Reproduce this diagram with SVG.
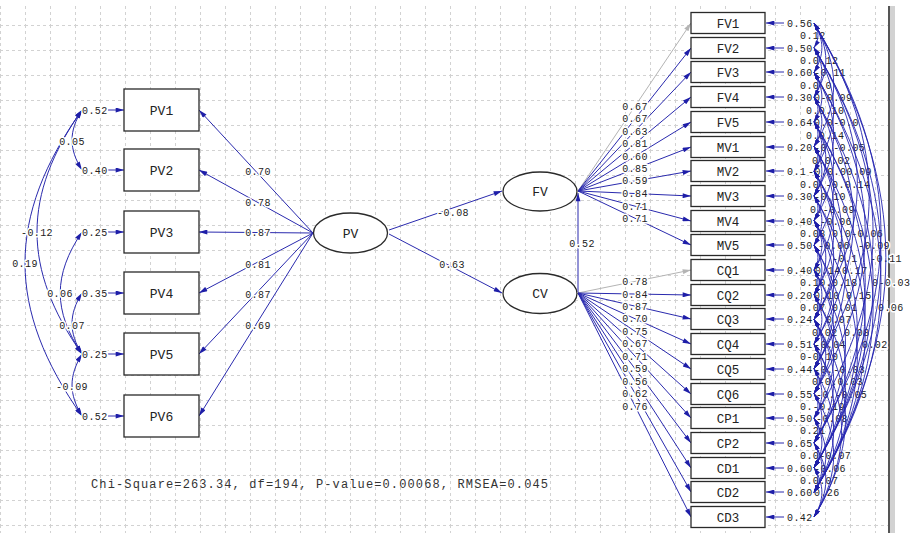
<svg xmlns="http://www.w3.org/2000/svg" width="912" height="533" viewBox="0 0 912 533">
<defs>
<pattern id="grid" x="0" y="0" width="25" height="25" patternUnits="userSpaceOnUse">
<path d="M0 0.5H25M0.5 0V25" stroke="#d2d2d2" stroke-width="1" stroke-dasharray="3 3" fill="none"/>
</pattern>
<marker id="a" viewBox="0 0 10 6" refX="10" refY="3" markerWidth="10" markerHeight="5" markerUnits="userSpaceOnUse" orient="auto-start-reverse"><path d="M0 0L10 3L0 6z" fill="#1e1ea8"/></marker>
<marker id="ag" viewBox="0 0 10 6" refX="10" refY="3" markerWidth="10" markerHeight="5" markerUnits="userSpaceOnUse" orient="auto-start-reverse"><path d="M0 0L10 3L0 6z" fill="#b4b4b4"/></marker>
<marker id="as" viewBox="0 0 10 6" refX="10" refY="3" markerWidth="8" markerHeight="4.5" markerUnits="userSpaceOnUse" orient="auto-start-reverse"><path d="M0 0L10 3L0 6z" fill="#1e1ea8"/></marker>
</defs>
<style>
.ln{stroke:#2a2aae;stroke-width:1;fill:none;marker-end:url(#a)}
.lg{stroke:#b4b4b4;stroke-width:1;fill:none;marker-end:url(#ag)}
.cv{stroke:#2a2aae;stroke-width:1;fill:none;marker-start:url(#a);marker-end:url(#a)}
.arc{stroke:#2424b0;stroke-width:.9;fill:none;marker-start:url(#as);marker-end:url(#as)}
.box{fill:#fff;stroke:#2a2a2a;stroke-width:1.3}
.el{fill:#fff;stroke:#2a2a2a;stroke-width:1.3}
.bx{font-family:"Liberation Mono",monospace;font-size:13px;text-anchor:middle;fill:#222}
.bs{font-family:"Liberation Mono",monospace;font-size:12.5px;text-anchor:middle;fill:#222}
.lb{font-family:"Liberation Mono",monospace;font-size:10px;letter-spacing:.4px;fill:#222;stroke:#fff;stroke-width:3px;paint-order:stroke;stroke-linejoin:round}
.m{text-anchor:middle}
.ft{font-family:"Liberation Mono",monospace;font-size:12px;fill:#333}
</style>
<rect width="912" height="533" fill="#fff"/>
<g id="grid"><rect x="0" y="4" width="888" height="529" fill="url(#grid)"/></g>
<g id="frame"><rect x="888" y="6" width="2" height="527" fill="#555"/><rect x="890" y="6" width="5" height="527" fill="#d2d2d2"/></g>

<g id="connectors">
<path class="ln" d="M313 233L199 110"/>
<path class="ln" d="M313 233L199 170"/>
<path class="ln" d="M313 233L199 232"/>
<path class="ln" d="M313 233L199 293"/>
<path class="ln" d="M313 233L199 354"/>
<path class="ln" d="M313 233L199 416"/>
<path class="ln" d="M108 110H124"/>
<path class="ln" d="M108 170H124"/>
<path class="ln" d="M108 232H124"/>
<path class="ln" d="M108 293H124"/>
<path class="ln" d="M108 354H124"/>
<path class="ln" d="M108 416H124"/>
<path class="cv" d="M82 110C68.7 131 68.7 149 82 170"/>
<path class="cv" d="M82 110C22 195 22 269 82 354"/>
<path class="cv" d="M82 110C6 217 6 309 82 416"/>
<path class="cv" d="M82 232C53 275 53 311 82 354"/>
<path class="cv" d="M82 293C68.7 314 68.7 333 82 354"/>
<path class="cv" d="M82 354C68.7 376 68.7 394 82 416"/>
<path class="ln" d="M389 230L502 191"/>
<path class="ln" d="M389 234L502 293"/>
<path class="ln" d="M578 292L578 193"/>
<path class="lg" d="M578 191L691 23"/>
<path class="ln" d="M578 191L691 48"/>
<path class="ln" d="M578 191L691 72"/>
<path class="ln" d="M578 191L691 97"/>
<path class="ln" d="M578 191L691 122"/>
<path class="ln" d="M578 191L691 147"/>
<path class="ln" d="M578 191L691 171"/>
<path class="ln" d="M578 191L691 196"/>
<path class="ln" d="M578 191L691 221"/>
<path class="ln" d="M578 191L691 245"/>
<path class="lg" d="M578 293L691 270"/>
<path class="ln" d="M578 293L691 295"/>
<path class="ln" d="M578 293L691 319"/>
<path class="ln" d="M578 293L691 344"/>
<path class="ln" d="M578 293L691 369"/>
<path class="ln" d="M578 293L691 394"/>
<path class="ln" d="M578 293L691 418"/>
<path class="ln" d="M578 293L691 443"/>
<path class="ln" d="M578 293L691 468"/>
<path class="ln" d="M578 293L691 492"/>
<path class="ln" d="M578 293L691 517"/>
<path class="ln" d="M784 23H766"/>
<path class="ln" d="M784 48H766"/>
<path class="ln" d="M784 72H766"/>
<path class="ln" d="M784 97H766"/>
<path class="ln" d="M784 122H766"/>
<path class="ln" d="M784 147H766"/>
<path class="ln" d="M784 171H766"/>
<path class="ln" d="M784 196H766"/>
<path class="ln" d="M784 221H766"/>
<path class="ln" d="M784 245H766"/>
<path class="ln" d="M784 270H766"/>
<path class="ln" d="M784 295H766"/>
<path class="ln" d="M784 319H766"/>
<path class="ln" d="M784 344H766"/>
<path class="ln" d="M784 369H766"/>
<path class="ln" d="M784 394H766"/>
<path class="ln" d="M784 418H766"/>
<path class="ln" d="M784 443H766"/>
<path class="ln" d="M784 468H766"/>
<path class="ln" d="M784 492H766"/>
<path class="ln" d="M784 517H766"/>
</g>

<g id="labels">
<text class="lb m" x="258" y="174.5">0.70</text>
<text class="lb m" x="258" y="205.5">0.78</text>
<text class="lb m" x="258" y="235.5">0.87</text>
<text class="lb m" x="258" y="267.5">0.81</text>
<text class="lb m" x="258" y="297.5">0.87</text>
<text class="lb m" x="258" y="328.5">0.69</text>
<text class="lb" x="82" y="113.5">0.52</text>
<text class="lb" x="82" y="173.5">0.40</text>
<text class="lb" x="82" y="235.5">0.25</text>
<text class="lb" x="82" y="296.5">0.35</text>
<text class="lb" x="82" y="357.5">0.25</text>
<text class="lb" x="82" y="419.5">0.52</text>
<text class="lb m" x="72" y="144.5">0.05</text>
<text class="lb m" x="37" y="235.5">-0.12</text>
<text class="lb m" x="25" y="266.5">0.19</text>
<text class="lb m" x="60" y="296.5">0.06</text>
<text class="lb m" x="72" y="328.5">0.07</text>
<text class="lb m" x="72" y="389.5">-0.09</text>
<text class="lb m" x="453" y="215.5">-0.08</text>
<text class="lb m" x="452" y="267.5">0.63</text>
<text class="lb m" x="582" y="246.5">0.52</text>
<text class="lb m" x="635" y="109.8">0.67</text>
<text class="lb m" x="635" y="122.4">0.67</text>
<text class="lb m" x="635" y="134.5">0.63</text>
<text class="lb m" x="635" y="147.1">0.81</text>
<text class="lb m" x="635" y="159.7">0.60</text>
<text class="lb m" x="635" y="172.3">0.85</text>
<text class="lb m" x="635" y="184.4">0.59</text>
<text class="lb m" x="635" y="197">0.84</text>
<text class="lb m" x="635" y="209.6">0.71</text>
<text class="lb m" x="635" y="221.7">0.71</text>
<text class="lb m" x="635" y="284.9">0.78</text>
<text class="lb m" x="635" y="297.5">0.84</text>
<text class="lb m" x="635" y="309.6">0.87</text>
<text class="lb m" x="635" y="322.2">0.70</text>
<text class="lb m" x="635" y="334.8">0.75</text>
<text class="lb m" x="635" y="347.4">0.67</text>
<text class="lb m" x="635" y="359.5">0.71</text>
<text class="lb m" x="635" y="372.2">0.59</text>
<text class="lb m" x="635" y="384.8">0.56</text>
<text class="lb m" x="635" y="396.9">0.62</text>
<text class="lb m" x="635" y="409.5">0.76</text>
<text class="lb" x="787" y="26.5">0.56</text>
<text class="lb" x="787" y="51.5">0.50</text>
<text class="lb" x="787" y="75.5">0.60</text>
<text class="lb" x="787" y="100.5">0.30</text>
<text class="lb" x="787" y="125.5">0.64</text>
<text class="lb" x="787" y="150.5">0.20</text>
<text class="lb" x="787" y="174.5">0.1</text>
<text class="lb" x="787" y="199.5">0.30</text>
<text class="lb" x="787" y="224.5">0.40</text>
<text class="lb" x="787" y="248.5">0.50</text>
<text class="lb" x="787" y="273.5">0.40</text>
<text class="lb" x="787" y="298.5">0.20</text>
<text class="lb" x="787" y="322.5">0.24</text>
<text class="lb" x="787" y="347.5">0.51</text>
<text class="lb" x="787" y="372.5">0.44</text>
<text class="lb" x="787" y="397.5">0.55</text>
<text class="lb" x="787" y="421.5">0.50</text>
<text class="lb" x="787" y="446.5">0.65</text>
<text class="lb" x="787" y="471.5">0.60</text>
<text class="lb" x="787" y="495.5">0.60</text>
<text class="lb" x="787" y="520.5">0.42</text>
<text class="lb" x="800" y="38.5">0.12</text>
<text class="lb" x="800" y="63.5">0.0.12</text>
<text class="lb" x="814" y="75.5">-0.11</text>
<text class="lb" x="800" y="88.5">0.0.0</text>
<text class="lb" x="814" y="100.5">0-0.09</text>
<text class="lb" x="806" y="113.5">0.0.10</text>
<text class="lb" x="814" y="125.5">0.0-0.0</text>
<text class="lb" x="806" y="138.5">0.0.14</text>
<text class="lb" x="814" y="150.5">-0.-0.05</text>
<text class="lb" x="812" y="163.5">0.0.02</text>
<text class="lb" x="808" y="174.5">-0.0.00.09</text>
<text class="lb" x="800" y="187.5">0.0.-0.0.14</text>
<text class="lb" x="814" y="199.5">-0.10</text>
<text class="lb" x="810" y="212.5">0.-0.09</text>
<text class="lb" x="820" y="224.5">-0.06</text>
<text class="lb" x="800" y="236.5">0.08 0.0-0.06</text>
<text class="lb" x="818" y="248.5">-0.06</text>
<text class="lb" x="858" y="248.5">-0.09</text>
<text class="lb" x="832" y="261.5">-0.1</text>
<text class="lb" x="870" y="261.5">-0.11</text>
<text class="lb" x="815" y="273.5">0.14</text>
<text class="lb" x="842" y="273.5">0.17</text>
<text class="lb" x="800" y="285.5">0.10.0.18</text>
<text class="lb" x="872" y="285.5">0-0.03</text>
<text class="lb" x="814" y="298.5">0.10 0.15</text>
<text class="lb" x="800" y="310.5">0.07 0.01</text>
<text class="lb" x="878" y="310.5">0.06</text>
<text class="lb" x="826" y="322.5">0.07</text>
<text class="lb" x="812" y="335.5">0.02 0.08</text>
<text class="lb" x="814" y="347.5">-0.04</text>
<text class="lb" x="862" y="347.5">0.02</text>
<text class="lb" x="800" y="359.5">0-0.10</text>
<text class="lb" x="814" y="372.5">-0.-0.03</text>
<text class="lb" x="812" y="384.5">0-0.0.03</text>
<text class="lb" x="816" y="397.5">-0.-0.05</text>
<text class="lb" x="800" y="409.5">0.-0.19</text>
<text class="lb" x="816" y="421.5">-0.08</text>
<text class="lb" x="800" y="433.5">0.21</text>
<text class="lb" x="800" y="458.5">0.0-0.07</text>
<text class="lb" x="814" y="471.5">-0.06</text>
<text class="lb" x="800" y="483.5">0.0.07</text>
<text class="lb" x="814" y="495.5">0.26</text>
</g>

<g id="error-covariances">
<path class="arc" d="M814 23C819.3 31.6 819.3 39.1 814 47.7"/>
<path class="arc" d="M814 47.7C819.3 56.3 819.3 63.8 814 72.4"/>
<path class="arc" d="M814 72.4C819.3 81 819.3 88.5 814 97.1"/>
<path class="arc" d="M814 97.1C819.3 105.7 819.3 113.2 814 121.8"/>
<path class="arc" d="M814 121.8C819.3 130.4 819.3 137.9 814 146.5"/>
<path class="arc" d="M814 146.5C819.3 155.1 819.3 162.6 814 171.2"/>
<path class="arc" d="M814 171.2C819.3 179.8 819.3 187.3 814 195.9"/>
<path class="arc" d="M814 195.9C819.3 204.5 819.3 212 814 220.6"/>
<path class="arc" d="M814 220.6C819.3 229.2 819.3 236.7 814 245.3"/>
<path class="arc" d="M814 245.3C819.3 253.9 819.3 261.4 814 270"/>
<path class="arc" d="M814 270C819.3 278.6 819.3 286.1 814 294.7"/>
<path class="arc" d="M814 294.7C819.3 303.3 819.3 310.8 814 319.4"/>
<path class="arc" d="M814 319.4C819.3 328 819.3 335.5 814 344.1"/>
<path class="arc" d="M814 344.1C819.3 352.7 819.3 360.2 814 368.8"/>
<path class="arc" d="M814 368.8C819.3 377.4 819.3 384.9 814 393.5"/>
<path class="arc" d="M814 393.5C819.3 402.1 819.3 409.6 814 418.2"/>
<path class="arc" d="M814 418.2C819.3 426.8 819.3 434.3 814 442.9"/>
<path class="arc" d="M814 442.9C819.3 451.5 819.3 459 814 467.6"/>
<path class="arc" d="M814 467.6C819.3 476.2 819.3 483.7 814 492.3"/>
<path class="arc" d="M814 23C824.5 40.3 824.5 55.1 814 72.4"/>
<path class="arc" d="M814 72.4C824.5 89.7 824.5 104.5 814 121.8"/>
<path class="arc" d="M814 121.8C824.5 139.1 824.5 153.9 814 171.2"/>
<path class="arc" d="M814 171.2C824.5 188.5 824.5 203.3 814 220.6"/>
<path class="arc" d="M814 220.6C824.5 237.9 824.5 252.7 814 270"/>
<path class="arc" d="M814 270C824.5 287.3 824.5 302.1 814 319.4"/>
<path class="arc" d="M814 319.4C824.5 336.7 824.5 351.5 814 368.8"/>
<path class="arc" d="M814 368.8C824.5 386.1 824.5 400.9 814 418.2"/>
<path class="arc" d="M814 418.2C824.5 435.5 824.5 450.3 814 467.6"/>
<path class="arc" d="M814 47.7C824.5 65 824.5 79.8 814 97.1"/>
<path class="arc" d="M814 97.1C824.5 114.4 824.5 129.2 814 146.5"/>
<path class="arc" d="M814 146.5C824.5 163.8 824.5 178.6 814 195.9"/>
<path class="arc" d="M814 195.9C824.5 213.2 824.5 228 814 245.3"/>
<path class="arc" d="M814 245.3C824.5 262.6 824.5 277.4 814 294.7"/>
<path class="arc" d="M814 294.7C824.5 312 824.5 326.8 814 344.1"/>
<path class="arc" d="M814 344.1C824.5 361.4 824.5 376.2 814 393.5"/>
<path class="arc" d="M814 393.5C824.5 410.8 824.5 425.6 814 442.9"/>
<path class="arc" d="M814 442.9C824.5 460.2 824.5 475 814 492.3"/>
<path class="arc" d="M814 467.6C824.5 484.9 824.5 499.7 814 517"/>
<path class="arc" d="M814 23C829.8 48.9 829.8 71.2 814 97.1"/>
<path class="arc" d="M814 121.8C829.8 147.7 829.8 170 814 195.9"/>
<path class="arc" d="M814 220.6C829.8 246.5 829.8 268.8 814 294.7"/>
<path class="arc" d="M814 319.4C829.8 345.3 829.8 367.6 814 393.5"/>
<path class="arc" d="M814 418.2C829.8 444.1 829.8 466.4 814 492.3"/>
<path class="arc" d="M814 442.9C829.8 468.8 829.8 491.1 814 517"/>
<path class="arc" d="M814 23C840.3 66.2 840.3 103.3 814 146.5"/>
<path class="arc" d="M814 47.7C840.3 90.9 840.3 128 814 171.2"/>
<path class="arc" d="M814 72.4C840.3 115.6 840.3 152.7 814 195.9"/>
<path class="arc" d="M814 97.1C840.3 140.3 840.3 177.4 814 220.6"/>
<path class="arc" d="M814 121.8C840.3 165 840.3 202.1 814 245.3"/>
<path class="arc" d="M814 146.5C840.3 189.7 840.3 226.8 814 270"/>
<path class="arc" d="M814 171.2C840.3 214.4 840.3 251.5 814 294.7"/>
<path class="arc" d="M814 195.9C840.3 239.1 840.3 276.2 814 319.4"/>
<path class="arc" d="M814 220.6C840.3 263.8 840.3 300.9 814 344.1"/>
<path class="arc" d="M814 245.3C840.3 288.5 840.3 325.6 814 368.8"/>
<path class="arc" d="M814 270C840.3 313.2 840.3 350.3 814 393.5"/>
<path class="arc" d="M814 294.7C840.3 337.9 840.3 375 814 418.2"/>
<path class="arc" d="M814 319.4C840.3 362.6 840.3 399.7 814 442.9"/>
<path class="arc" d="M814 344.1C840.3 387.3 840.3 424.4 814 467.6"/>
<path class="arc" d="M814 368.8C840.3 412 840.3 449.1 814 492.3"/>
<path class="arc" d="M814 393.5C840.3 436.7 840.3 473.8 814 517"/>
<path class="arc" d="M814 146.5C850.8 207 850.8 258.9 814 319.4"/>
<path class="arc" d="M814 344.1C850.8 404.6 850.8 456.5 814 517"/>
<path class="arc" d="M814 245.3C856 314.5 856 373.7 814 442.9"/>
<path class="arc" d="M814 270C856 339.2 856 398.4 814 467.6"/>
<path class="arc" d="M814 294.7C856 363.9 856 423.1 814 492.3"/>
<path class="arc" d="M814 171.2C856 240.4 856 299.6 814 368.8"/>
<path class="arc" d="M814 319.4C856 388.6 856 447.8 814 517"/>
<path class="arc" d="M814 97.1C866.5 183.6 866.5 257.6 814 344.1"/>
<path class="arc" d="M814 195.9C871.8 291 871.8 372.5 814 467.6"/>
<path class="arc" d="M814 47.7C871.8 142.8 871.8 224.3 814 319.4"/>
<path class="arc" d="M814 220.6C871.8 315.7 871.8 397.2 814 492.3"/>
<path class="arc" d="M814 72.4C882.3 184.8 882.3 281.1 814 393.5"/>
<path class="arc" d="M814 121.8C882.3 234.2 882.3 330.5 814 442.9"/>
<path class="arc" d="M814 146.5C882.3 258.9 882.3 355.2 814 467.6"/>
<path class="arc" d="M814 171.2C882.3 283.6 882.3 379.9 814 492.3"/>
<path class="arc" d="M814 23C887.6 144 887.6 247.8 814 368.8"/>
<path class="arc" d="M814 47.7C892.8 177.4 892.8 288.5 814 418.2"/>
<path class="arc" d="M814 97.1C892.8 226.8 892.8 337.9 814 467.6"/>
<path class="arc" d="M814 121.8C892.8 251.5 892.8 362.6 814 492.3"/>
<path class="arc" d="M814 23C903.3 170 903.3 295.9 814 442.9"/>
<path class="arc" d="M814 47.7C903.3 194.7 903.3 320.6 814 467.6"/>
<path class="arc" d="M814 72.4C903.3 219.4 903.3 345.3 814 492.3"/>
<path class="arc" d="M814 23C909.8 187.3 909.8 328 814 492.3"/>
</g>

<g id="PV1"><rect class="box" x="124" y="89" width="75" height="42"/><text class="bx" x="161.5" y="114.5">PV1</text></g>
<g id="PV2"><rect class="box" x="124" y="149" width="75" height="42"/><text class="bx" x="161.5" y="174.5">PV2</text></g>
<g id="PV3"><rect class="box" x="124" y="211" width="75" height="42"/><text class="bx" x="161.5" y="236.5">PV3</text></g>
<g id="PV4"><rect class="box" x="124" y="272" width="75" height="42"/><text class="bx" x="161.5" y="297.5">PV4</text></g>
<g id="PV5"><rect class="box" x="124" y="333" width="75" height="42"/><text class="bx" x="161.5" y="358.5">PV5</text></g>
<g id="PV6"><rect class="box" x="124" y="395" width="75" height="42"/><text class="bx" x="161.5" y="420.5">PV6</text></g>

<g id="PV"><ellipse class="el" cx="350.5" cy="233" rx="37" ry="20"/><text class="bx" x="350.5" y="237.5">PV</text></g>
<g id="FV"><ellipse class="el" cx="540" cy="191.5" rx="37" ry="19.5"/><text class="bx" x="540" y="196">FV</text></g>
<g id="CV"><ellipse class="el" cx="540" cy="293.5" rx="37" ry="20"/><text class="bx" x="540" y="298">CV</text></g>

<g id="FV1"><rect class="box" x="691" y="12.5" width="74" height="21"/><text class="bs" x="728" y="27.5">FV1</text></g>
<g id="FV2"><rect class="box" x="691" y="37.5" width="74" height="21"/><text class="bs" x="728" y="52.5">FV2</text></g>
<g id="FV3"><rect class="box" x="691" y="61.5" width="74" height="21"/><text class="bs" x="728" y="76.5">FV3</text></g>
<g id="FV4"><rect class="box" x="691" y="86.5" width="74" height="21"/><text class="bs" x="728" y="101.5">FV4</text></g>
<g id="FV5"><rect class="box" x="691" y="111.5" width="74" height="21"/><text class="bs" x="728" y="126.5">FV5</text></g>
<g id="MV1"><rect class="box" x="691" y="136.5" width="74" height="21"/><text class="bs" x="728" y="151.5">MV1</text></g>
<g id="MV2"><rect class="box" x="691" y="160.5" width="74" height="21"/><text class="bs" x="728" y="175.5">MV2</text></g>
<g id="MV3"><rect class="box" x="691" y="185.5" width="74" height="21"/><text class="bs" x="728" y="200.5">MV3</text></g>
<g id="MV4"><rect class="box" x="691" y="210.5" width="74" height="21"/><text class="bs" x="728" y="225.5">MV4</text></g>
<g id="MV5"><rect class="box" x="691" y="234.5" width="74" height="21"/><text class="bs" x="728" y="249.5">MV5</text></g>
<g id="CQ1"><rect class="box" x="691" y="259.5" width="74" height="21"/><text class="bs" x="728" y="274.5">CQ1</text></g>
<g id="CQ2"><rect class="box" x="691" y="284.5" width="74" height="21"/><text class="bs" x="728" y="299.5">CQ2</text></g>
<g id="CQ3"><rect class="box" x="691" y="308.5" width="74" height="21"/><text class="bs" x="728" y="323.5">CQ3</text></g>
<g id="CQ4"><rect class="box" x="691" y="333.5" width="74" height="21"/><text class="bs" x="728" y="348.5">CQ4</text></g>
<g id="CQ5"><rect class="box" x="691" y="358.5" width="74" height="21"/><text class="bs" x="728" y="373.5">CQ5</text></g>
<g id="CQ6"><rect class="box" x="691" y="383.5" width="74" height="21"/><text class="bs" x="728" y="398.5">CQ6</text></g>
<g id="CP1"><rect class="box" x="691" y="407.5" width="74" height="21"/><text class="bs" x="728" y="422.5">CP1</text></g>
<g id="CP2"><rect class="box" x="691" y="432.5" width="74" height="21"/><text class="bs" x="728" y="447.5">CP2</text></g>
<g id="CD1"><rect class="box" x="691" y="457.5" width="74" height="21"/><text class="bs" x="728" y="472.5">CD1</text></g>
<g id="CD2"><rect class="box" x="691" y="481.5" width="74" height="21"/><text class="bs" x="728" y="496.5">CD2</text></g>
<g id="CD3"><rect class="box" x="691" y="506.5" width="74" height="21"/><text class="bs" x="728" y="521.5">CD3</text></g>

<g id="fit"><text class="ft" x="91" y="488" textLength="457" lengthAdjust="spacing">Chi-Square=263.34, df=194, P-value=0.00068, RMSEA=0.045</text></g>
</svg>
